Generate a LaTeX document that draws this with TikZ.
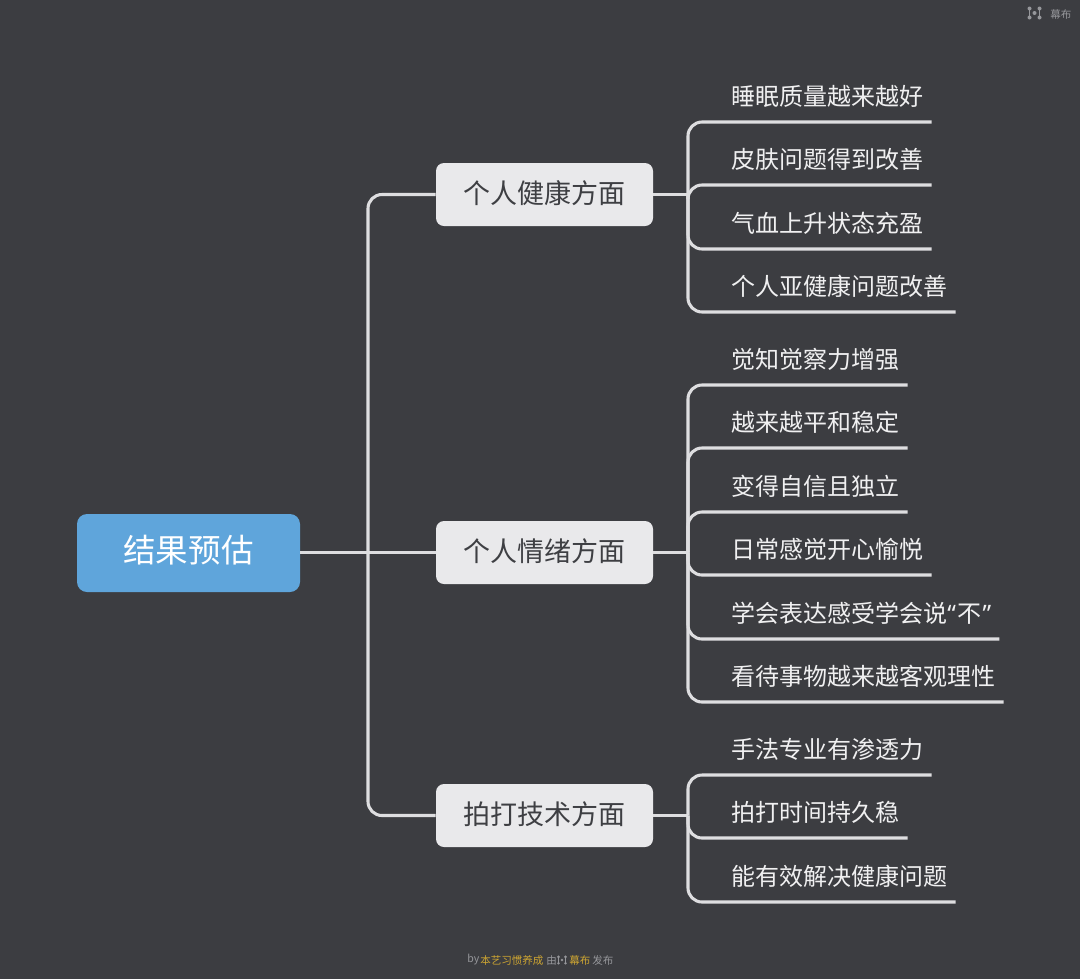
\documentclass[tikz,border=0pt]{standalone}
\usepackage{fontspec}
\setmainfont{Noto Sans CJK SC}
\newfontfamily\quotefont{Noto Sans}
\usetikzlibrary{calc}
\definecolor{bg}{RGB}{60,61,65}
\definecolor{wire}{RGB}{222,222,224}
\definecolor{topicfill}{RGB}{233,233,235}
\definecolor{topictext}{RGB}{62,63,67}
\definecolor{rootfill}{RGB}{95,165,219}
\definecolor{leaftext}{RGB}{240,240,241}
\definecolor{markgray}{RGB}{150,151,155}
\definecolor{markyellow}{RGB}{205,165,50}
\begin{document}
\begin{tikzpicture}[x=0.75pt,y=-0.75pt]
	\tikzset{link/.style={draw=wire,line width=2.3pt,rounded corners=10.5pt}}
	\tikzset{root/.style={shape=rectangle,fill=rootfill,text=white,rounded corners=7.5pt,minimum width=167.25pt,minimum height=58.5pt,inner sep=0pt,text depth=6pt,font=\fontsize{24.4}{28}\selectfont}}
	\tikzset{topic/.style={shape=rectangle,fill=topicfill,text=topictext,rounded corners=6pt,minimum width=162.75pt,minimum height=47.25pt,inner sep=0pt,text depth=4pt,font=\fontsize{20.25}{24}\selectfont}}
	\tikzset{leaf/.style={shape=rectangle,anchor=south west,text=leaftext,inner xsep=6pt,inner ysep=0pt,minimum height=37.5pt,font=\fontsize{18}{22}\selectfont}}
	\tikzset{tiny/.style={inner sep=0pt,text=markgray,font=\fontsize{7.9}{10}\selectfont}}

	% Logo: colour
	\tikzset{pics/mubu/.style args={#1}{code={%
				\draw[#1,line width=0.8pt] (-5,-4.5) -- (-5,4.5);
				\draw[#1,line width=0.8pt] (5,-4.5) -- (5,4.5);
				\foreach \px/\py in {-5/-4.5,5/-4.5,-5/4.5,5/4.5,0/0} {
						\fill[#1] (\px,\py) circle (1.5pt);
					}
			}}}

	\fill[bg] (0,0) rectangle (1080,979);
	\useasboundingbox (0,0) rectangle (1080,979);

	\node[root] (r) at (188.5,553) {结果预估};
	\node[topic] (t1) at (544.5,194.5) {个人健康方面};
	\node[topic] (t2) at (544.5,552.5) {个人情绪方面};
	\node[topic] (t3) at (544.5,815.5) {拍打技术方面};

	\node[leaf] (a1) at (723,122) {睡眠质量越来越好};
	\node[leaf] (a2) at (723,185) {皮肤问题得到改善};
	\node[leaf] (a3) at (723,249) {气血上升状态充盈};
	\node[leaf] (a4) at (723,312) {个人亚健康问题改善};

	\node[leaf] (b1) at (723,385) {觉知觉察力增强};
	\node[leaf] (b2) at (723,448) {越来越平和稳定};
	\node[leaf] (b3) at (723,512) {变得自信且独立};
	\node[leaf] (b4) at (723,575) {日常感觉开心愉悦};
	\node[leaf] (b5) at (723,639) {学会表达感受学会说{\quotefont “}\kern1pt 不\kern1pt{\quotefont ”}};
	\node[leaf] (b6) at (723,702) {看待事物越来越客观理性};

	\node[leaf] (c1) at (723,775) {手法专业有渗透力};
	\node[leaf] (c2) at (723,838) {拍打时间持久稳};
	\node[leaf] (c3) at (723,902) {能有效解决健康问题};

	\coordinate (j0) at (368,552.5);
	\coordinate (j1) at (688,194.5);
	\coordinate (j2) at (688,552.5);
	\coordinate (j3) at (688,815.5);

	\path[link] (r.east |- j0) to (t2.west);
	\path[link] (j0) |- (t1.west);
	\path[link] (j0) |- (t3.west);

	\path[link] (t1.east) to (j1);
	\path[link] (j1) |- (a1.south east);
	\path[link] (j1) |- (a2.south east);
	\path[link] (j1) |- (a3.south east);
	\path[link] (j1) |- (a4.south east);

	\path[link] (t2.east) to (j2);
	\path[link] (j2) |- (b1.south east);
	\path[link] (j2) |- (b2.south east);
	\path[link] (j2) |- (b3.south east);
	\path[link] (j2) |- (b4.south east);
	\path[link] (j2) |- (b5.south east);
	\path[link] (j2) |- (b6.south east);

	\path[link] (t3.east) to (j3);
	\path[link] (j3) |- (c1.south east);
	\path[link] (j3) |- (c2.south east);
	\path[link] (j3) |- (c3.south east);

	% watermarks
	\pic at (1034.5,13) {mubu=markgray};
	\node[tiny,anchor=west] (m1) at (1050,14) {幕布};

	\node[tiny,anchor=west] (f1) at (467,960) {by};
	\node[tiny,anchor=west,text=markyellow] (f2) at (480,960) {本艺习惯养成};
	\node[tiny,anchor=west] (f3) at (546,960) {由};
	\pic[scale=0.7] at (562,960) {mubu=markgray};
	\node[tiny,anchor=west,text=markyellow] (f4) at (569,960) {幕布};
	\node[tiny,anchor=west] (f5) at (592,960) {发布};
\end{tikzpicture}
\end{document}
